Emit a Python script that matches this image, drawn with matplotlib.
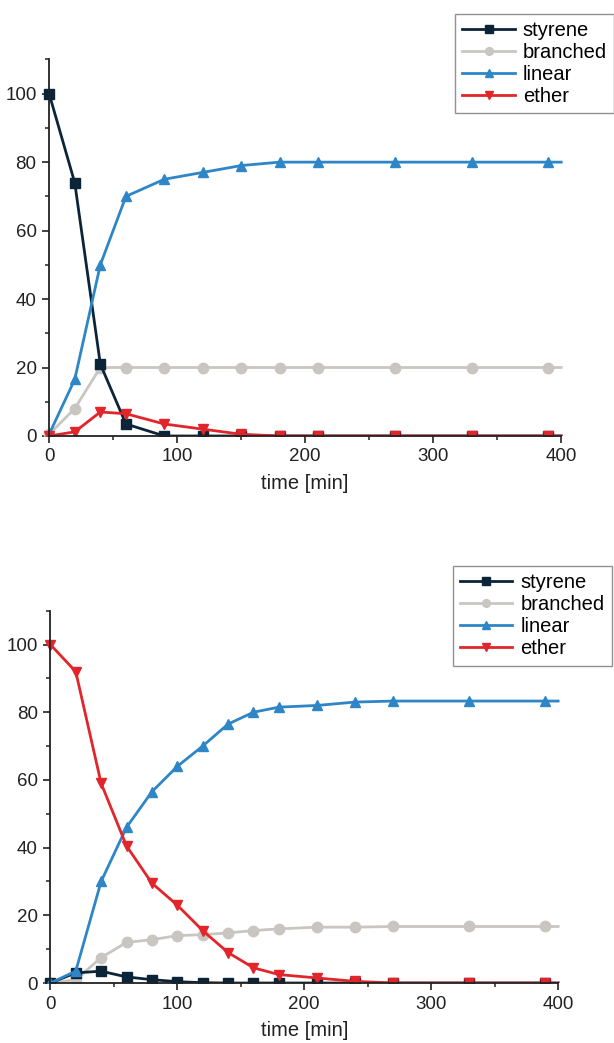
import numpy as np
import matplotlib
matplotlib.use("Agg")
import matplotlib.pyplot as plt
from matplotlib.ticker import MultipleLocator
from matplotlib.patches import Rectangle

plt.rcParams['font.family'] = ['Liberation Sans', 'DejaVu Sans']

# top panel: styrene as substrate
t_top = [0, 20, 40, 60, 90, 120, 150, 180, 210, 270, 330, 390, 400]
styrene_top = [100, 74, 21, 3.5, 0, 0, 0, 0, 0, 0, 0, 0, 0]
branched_top = [0.5, 8, 20, 20, 20, 20, 20, 20, 20, 20, 20, 20, 20]
linear_top = [0.5, 16.5, 50, 70, 75, 77, 79, 80, 80, 80, 80, 80, 80]
ether_top = [0, 1.2, 7, 6.5, 3.5, 2, 0.5, 0, 0, 0, 0, 0, 0]

# bottom panel: ether as substrate
t_bot = [0, 20, 40, 60, 80, 100, 120, 140, 160, 180, 210, 240, 270, 330, 390, 400]
styrene_bot = [0, 3, 3.5, 1.8, 1.0, 0.4, 0.1, 0, 0, 0, 0, 0, 0, 0, 0, 0]
branched_bot = [0, 1, 7.5, 12, 12.8, 14, 14.3, 14.8, 15.5, 16, 16.5, 16.5, 16.7, 16.7, 16.7, 16.7]
linear_bot = [0, 3.5, 30, 46, 56.5, 64, 70, 76.5, 80, 81.5, 82, 83, 83.3, 83.3, 83.3, 83.3]
ether_bot = [100, 92, 59, 40.5, 29.5, 23, 15.5, 9, 4.5, 2.5, 1.5, 0.5, 0, 0, 0, 0]

labels = ['styrene', 'branched', 'linear', 'ether']
colors = ['#0b2438', '#c9c6c2', '#2f86c6', '#e2252b']
markers = ['s', 'o', '^', 'v']
zorders = [3, 2, 4, 5]


def draw_panel(ax, t, series):
    n = len(t)
    # clip only below y = 0, markers on the left axis stay whole
    clip = Rectangle((-0.05, 0), 1.1, 1.2, transform=ax.transAxes,
                     facecolor='none', edgecolor='none')
    for vals, lab, col, mk, z in zip(series, labels, colors, markers, zorders):
        line, = ax.plot(t, vals, color=col, marker=mk, markersize=7.5,
                        linewidth=2, markevery=list(range(n - 1)),
                        label=lab, zorder=z)
        line.set_clip_path(clip)
    ax.set_xlim(0, 400)
    ax.set_ylim(0, 110)
    ax.set_xticks([0, 100, 200, 300, 400])
    ax.xaxis.set_minor_locator(MultipleLocator(50))
    ax.set_yticks([0, 20, 40, 60, 80, 100])
    ax.yaxis.set_minor_locator(MultipleLocator(10))
    ax.spines['top'].set_visible(False)
    ax.spines['right'].set_visible(False)
    for s in ['left', 'bottom']:
        ax.spines[s].set_linewidth(1.3)
        ax.spines[s].set_color('#222222')
        ax.spines[s].set_zorder(6)
    ax.tick_params(which='major', direction='out', length=5, width=1.2,
                   labelsize=13.5, colors='#222222', pad=4)
    ax.tick_params(which='minor', direction='out', length=3, width=1.1,
                   colors='#222222')
    ax.set_xlabel('time [min]', fontsize=14.5, color='#222222', labelpad=6)


fig = plt.figure(figsize=(6.14, 10.43), dpi=100)
ax1 = fig.add_axes([0.080, 0.582, 0.834, 0.361])
ax2 = fig.add_axes([0.082, 0.0575, 0.827, 0.357])

draw_panel(ax1, t_top, [styrene_top, branched_top, linear_top, ether_top])
draw_panel(ax2, t_bot, [styrene_bot, branched_bot, linear_bot, ether_bot])

for ax, anchor in [(ax1, (1.0, 0.987)), (ax2, (0.996, 0.457))]:
    leg = ax.legend(loc='upper right', bbox_to_anchor=anchor,
                    bbox_transform=fig.transFigure, fontsize=14.5,
                    frameon=True, fancybox=False, markerscale=0.75,
                    handlelength=2.6, handletextpad=0.4, labelspacing=0.15,
                    borderpad=0.35, borderaxespad=0)
    leg.get_frame().set_edgecolor('#777777')
    leg.get_frame().set_linewidth(1.0)

fig.savefig('out.png', dpi=100)
